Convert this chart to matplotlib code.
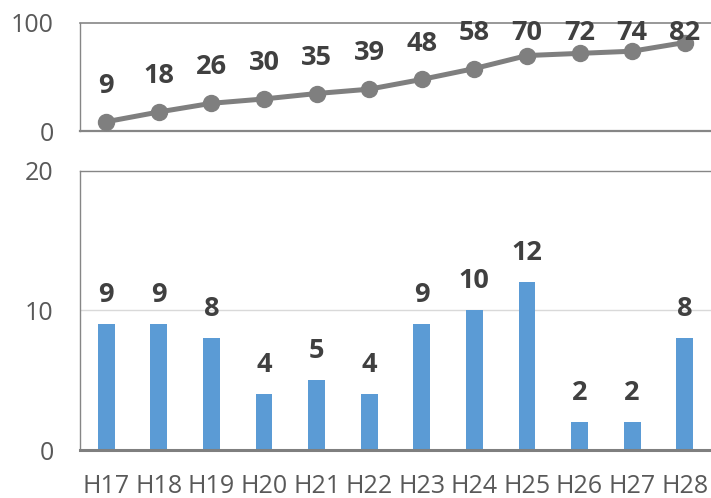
import matplotlib
matplotlib.use("Agg")
import matplotlib.pyplot as plt

years = ["H17", "H18", "H19", "H20", "H21", "H22", "H23", "H24", "H25", "H26", "H27", "H28"]
cumulative = [9, 18, 26, 30, 35, 39, 48, 58, 70, 72, 74, 82]
annual = [9, 9, 8, 4, 5, 4, 9, 10, 12, 2, 2, 8]

plt.rcParams["font.family"] = ["Open Sans", "DejaVu Sans"]

LINE_C = "#7f7f7f"
BAR_C = "#5b9bd5"
LABEL_C = "#404040"
TICK_C = "#595959"
AXIS_C = "#868686"

fig = plt.figure(figsize=(7.11, 4.98), dpi=100)
left = 80 / 711
ax1 = fig.add_axes([left, 1 - 131.5 / 498, 1 - left, 108.5 / 498])
ax2 = fig.add_axes([left, 1 - 450 / 498, 1 - left, 279.5 / 498])

x = list(range(len(years)))

# Cumulative line panel
ax1.plot(x, cumulative, color=LINE_C, lw=3.6, marker="o", ms=11.5,
         solid_capstyle="round", zorder=3, clip_on=False)
for i, v in enumerate(cumulative):
    ax1.text(i, min(v + 33, 91), str(v), ha="center", va="center",
             fontsize=19.5, fontweight="bold", color=LABEL_C, zorder=4)
ax1.set_xlim(-0.5, len(years) - 0.5)
ax1.set_ylim(0, 100)
ax1.set_yticks([0, 100])
ax1.set_xticks([])
ax1.spines["right"].set_visible(False)
ax1.spines["left"].set_color(AXIS_C)
ax1.spines["left"].set_linewidth(1.0)
ax1.spines["top"].set_color(AXIS_C)
ax1.spines["top"].set_linewidth(1.2)
ax1.spines["bottom"].set_color(AXIS_C)
ax1.spines["bottom"].set_linewidth(1.6)
ax1.tick_params(axis="y", length=0, pad=19, labelsize=18, labelcolor=TICK_C)

# Annual bar panel
ax2.bar(x, annual, width=0.32, color=BAR_C, zorder=3)
for i, v in enumerate(annual):
    ax2.annotate(str(v), (i, v), xytext=(0, 21), textcoords="offset points",
                 ha="center", va="center", fontsize=19.5, fontweight="bold",
                 color=LABEL_C, zorder=4)
ax2.set_xlim(-0.5, len(years) - 0.5)
ax2.set_ylim(0, 20)
ax2.set_yticks([0, 10, 20])
ax2.set_xticks(x)
ax2.set_xticklabels(years)
ax2.axhline(10, color="#d9d9d9", lw=1.0, zorder=1)
ax2.spines["right"].set_visible(False)
ax2.spines["top"].set_color(AXIS_C)
ax2.spines["top"].set_linewidth(1.0)
ax2.spines["left"].set_color(AXIS_C)
ax2.spines["left"].set_linewidth(1.0)
ax2.spines["bottom"].set_color(LINE_C)
ax2.spines["bottom"].set_linewidth(2.2)
ax2.spines["bottom"].set_zorder(5)
ax2.tick_params(axis="y", length=0, pad=19, labelsize=18, labelcolor=TICK_C)
ax2.tick_params(axis="x", length=0, pad=17, labelsize=18, labelcolor=TICK_C)

fig.savefig("out.png", dpi=100)
